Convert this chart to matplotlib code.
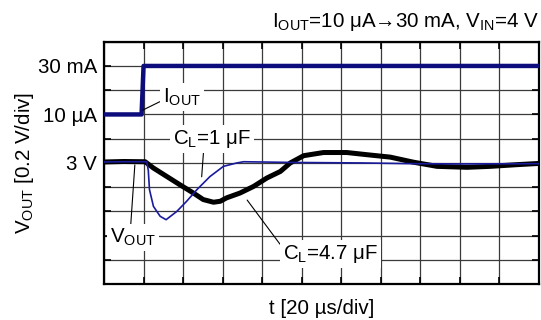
import matplotlib
matplotlib.use("Agg")
import matplotlib.pyplot as plt
import numpy as np

plt.rcParams['font.family'] = ['Liberation Sans', 'DejaVu Sans']
plt.rcParams['mathtext.fontset'] = 'custom'
plt.rcParams['mathtext.rm'] = 'Liberation Sans'
plt.rcParams['mathtext.it'] = 'Liberation Sans:italic'
plt.rcParams['mathtext.bf'] = 'Liberation Sans:bold'

# ---- data (in oscilloscope divisions) ----
iout_t = [0.0, 0.95, 1.0, 11.0]
iout_v = [7.0, 7.0, 9.0, 9.0]

v1_t = [0.0, 0.5, 1.08, 1.12, 1.15, 1.25, 1.42, 1.57, 1.84, 2.09, 2.35, 2.68,
        3.02, 3.36, 3.53, 4.8, 6.5, 7.8, 9.0, 11.0]
v1_v = [5.04, 5.05, 5.05, 4.7, 3.9, 3.21, 2.8, 2.66, 3.0, 3.42, 3.9, 4.44,
        4.86, 5.0, 5.05, 5.02, 5.0, 4.97, 4.96, 4.97]

v47_t = [0.0, 0.5, 1.04, 1.25, 1.59, 1.92, 2.26, 2.51, 2.77, 2.94, 3.1, 3.44,
         3.78, 4.12, 4.46, 4.71, 5.05, 5.55, 6.14, 6.65, 7.24, 7.83, 8.42,
         9.18, 9.77, 10.45, 11.0]
v47_v = [5.04, 5.06, 5.05, 4.79, 4.44, 4.1, 3.76, 3.49, 3.38, 3.42, 3.56, 3.76,
         4.03, 4.38, 4.65, 5.0, 5.3, 5.43, 5.43, 5.34, 5.24, 5.03, 4.86,
         4.82, 4.86, 4.93, 4.98]

ytick_levels = [9, 7, 5]
ytick_labels = ['30 mA', '10 \u00b5A', '3 V']

fig = plt.figure(figsize=(5.41, 3.2), dpi=100)
ax = fig.add_axes([104/541, 1-284.2/320, 435/541, 242.5/320])
ax.set_xlim(0, 11)
ax.set_ylim(0, 10)
ax.set_xticks(np.arange(0, 12))
ax.set_yticks(np.arange(0, 11))
ax.set_xticklabels([])
labels = ['' for _ in range(11)]
for lv, lb in zip(ytick_levels, ytick_labels):
    labels[lv] = lb
ax.set_yticklabels(labels)
fs = 14.8
ax.tick_params(direction='in', length=5, width=1.2, color='black', labelsize=fs, pad=5,
               top=True, right=True)
ax.grid(True, color='#3a3a3a', lw=0.9)
ax.set_axisbelow(True)
for s in ax.spines.values():
    s.set_linewidth(1.6)
    s.set_color('black')

ax.plot(iout_t, iout_v, color='#0c0c7c', lw=3.2, solid_capstyle='butt', zorder=4)
ax.plot(v47_t, v47_v, color='black', lw=3.6, zorder=3)
ax.plot(v1_t, v1_v, color='#1a1a9c', lw=1.2, zorder=4)

box = dict(boxstyle='square,pad=0.15', fc='white', ec='none')
lead = dict(arrowstyle='-', color='black', lw=0.8, shrinkA=0, shrinkB=0)

ax.annotate(r'I$_{\mathrm{OUT}}$', xy=(0.98, 7.18), xytext=(1.49, 7.72),
            ha='left', va='center', fontsize=fs, bbox=box,
            arrowprops=dict(lead, relpos=(0, 0.35)), zorder=5)
ax.annotate(r'C$_{\mathrm{L}}$=1 $\mathrm{\mu}$F', xy=(2.47, 4.43), xytext=(1.75, 5.98),
            ha='left', va='center', fontsize=fs, bbox=box,
            arrowprops=dict(lead, relpos=(0.39, 0.0)), zorder=5)
ax.annotate(r'V$_{\mathrm{OUT}}$', xy=(0.78, 4.92), xytext=(0.15, 1.92),
            ha='left', va='center', fontsize=fs, bbox=box,
            arrowprops=dict(lead, relpos=(0.45, 1.0)), zorder=5)
ax.annotate(r'C$_{\mathrm{L}}$=4.7 $\mathrm{\mu}$F', xy=(3.62, 3.47), xytext=(4.53, 1.25),
            ha='left', va='center', fontsize=fs, bbox=box,
            arrowprops=dict(lead, relpos=(0.0, 0.75)), zorder=5)

ax.set_xlabel('t [20 \u00b5s/div]', fontsize=fs, labelpad=6)
ax.set_ylabel(r'V$_{\mathrm{OUT}}$ [0.2 V/div]', fontsize=fs, labelpad=1)

top_text = r'I$_{\mathrm{OUT}}$=10 $\mathrm{\mu}$A' + '\u2192' + r'30 mA, V$_{\mathrm{IN}}$=4 V'
fig.text(539/541, 1-21.7/320, top_text, ha='right', va='center', fontsize=fs)

fig.savefig('out.png', dpi=100)
